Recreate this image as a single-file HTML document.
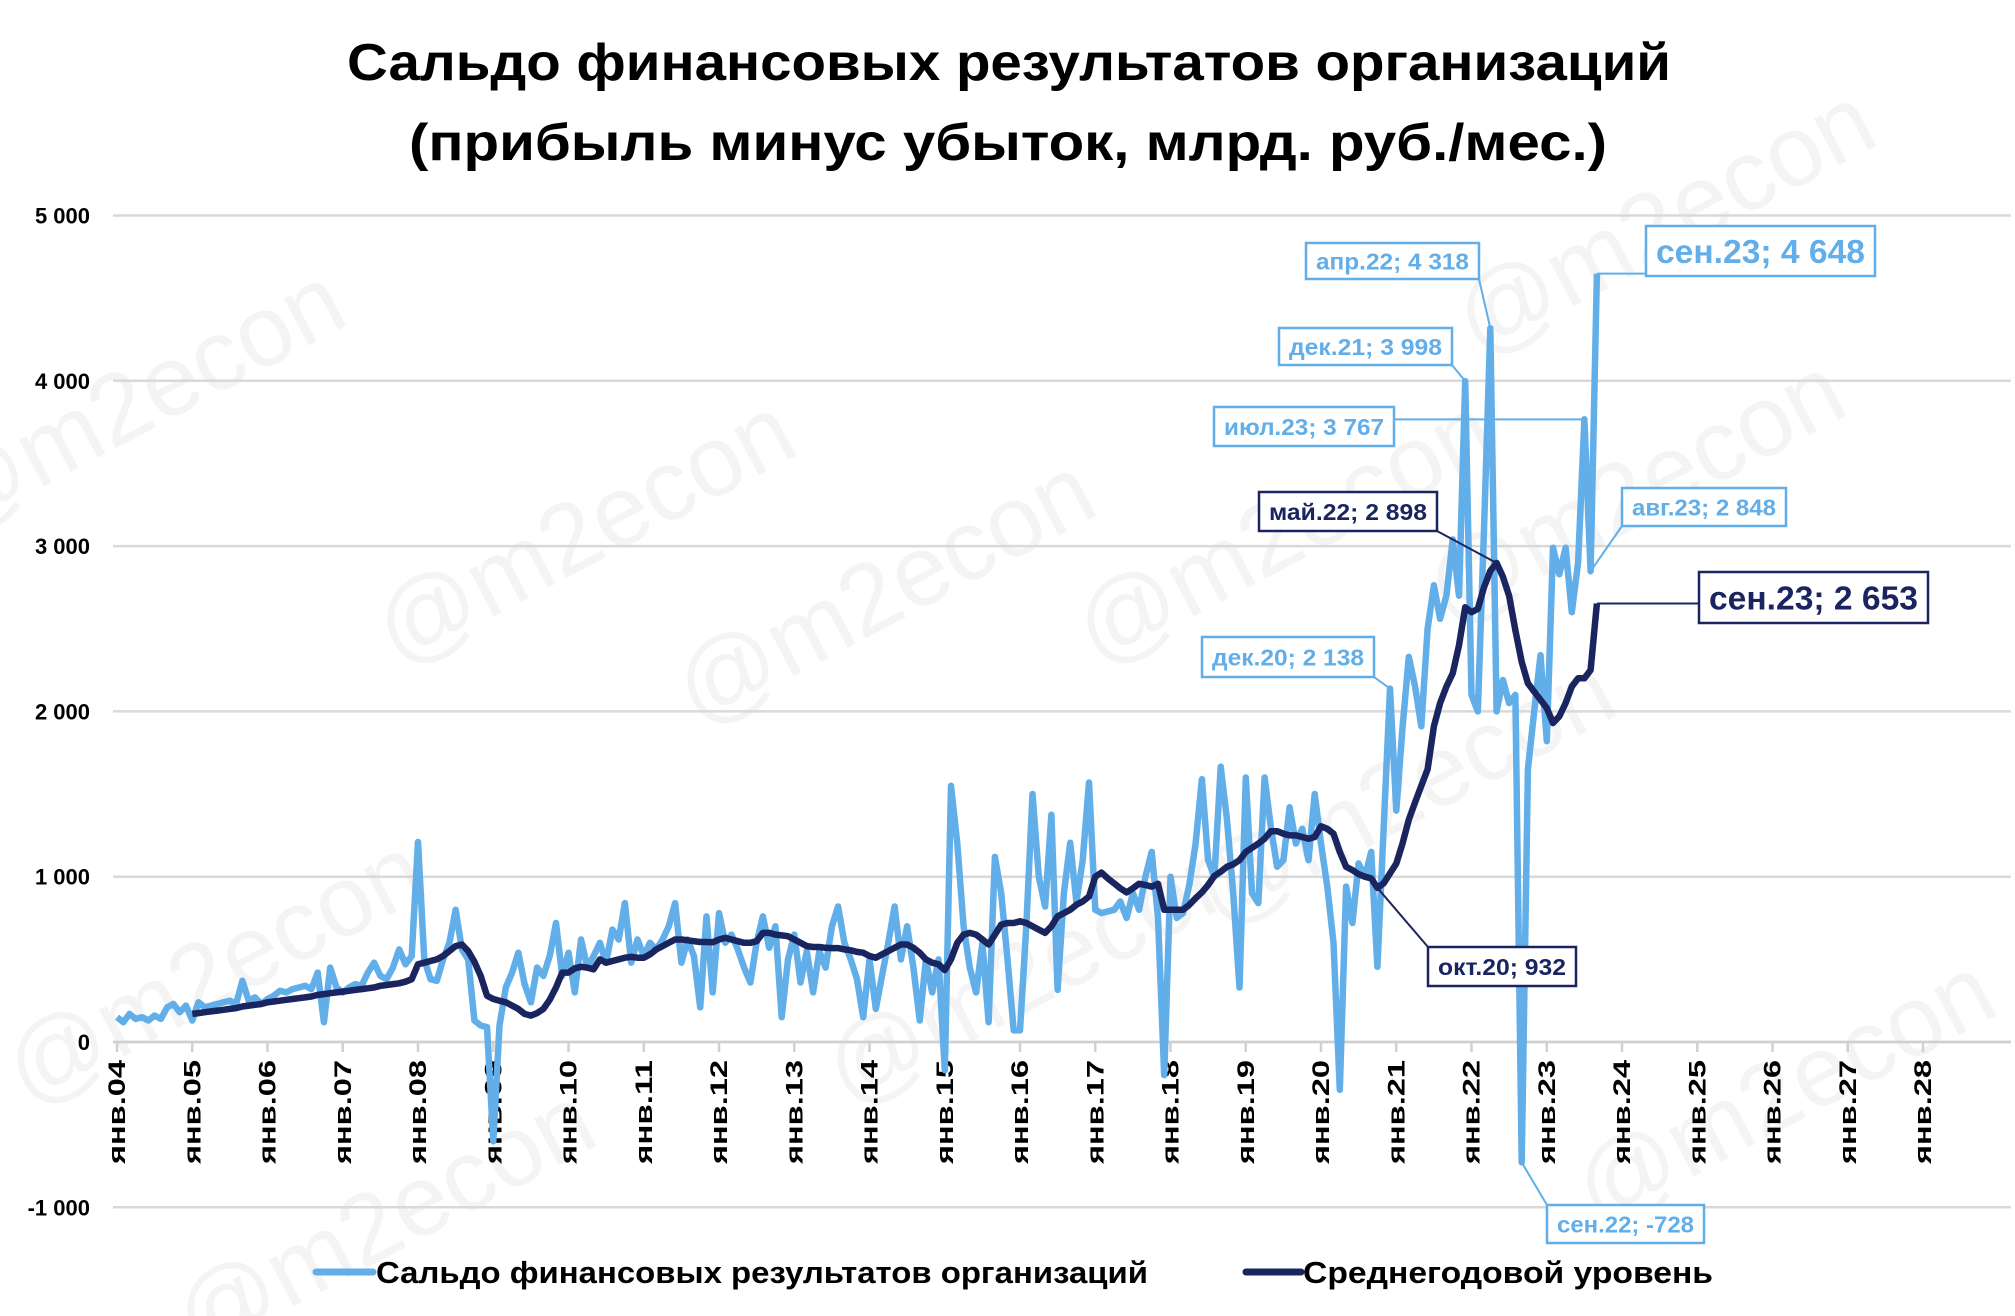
<!DOCTYPE html>
<html><head><meta charset="utf-8">
<style>
html,body{margin:0;padding:0;background:#fff;width:2015px;height:1316px;overflow:hidden;}
svg{display:block;overflow:hidden;font-family:"Liberation Sans","DejaVu Sans",sans-serif;}
</style></head>
<body>
<svg id="chart" width="2015" height="1316" viewBox="0 0 2015 1316" xmlns="http://www.w3.org/2000/svg">
<rect width="2015" height="1316" fill="#fff"/>
<g id="wm" fill="#f4f4f4" font-size="100" font-weight="normal"></g>
<text x="1009" y="80" text-anchor="middle" font-size="52" font-weight="bold" textLength="1324" lengthAdjust="spacingAndGlyphs">Сальдо финансовых результатов организаций</text>
<text x="1008" y="160" text-anchor="middle" font-size="52" font-weight="bold" textLength="1198" lengthAdjust="spacingAndGlyphs">(прибыль минус убыток, млрд. руб./мес.)</text>
<g id="grid"></g>
<g id="yax"></g>
<g id="xax"></g>
<g id="series"></g>
<g id="labels"></g>
<g>
  <g>
    <line x1="316" y1="1272" x2="373" y2="1272" stroke="#62aee8" stroke-width="7" stroke-linecap="round"/>
    <text x="376" y="1283" font-size="31" font-weight="bold" textLength="772" lengthAdjust="spacingAndGlyphs">Сальдо финансовых результатов организаций</text>
  </g>
  <g>
    <line x1="1246" y1="1272" x2="1301" y2="1272" stroke="#1a2560" stroke-width="7" stroke-linecap="round"/>
    <text x="1303" y="1283" font-size="31" font-weight="bold" textLength="410" lengthAdjust="spacingAndGlyphs">Среднегодовой уровень</text>
  </g>
</g>
</svg>
<script>
// ---- data ----
const startYear = 2004;
const yTicks = [5000,4000,3000,2000,1000,0,-1000];
const yTickLabels = ["5 000","4 000","3 000","2 000","1 000","0","-1 000"];
const xYears = ["04","05","06","07","08","09","10","11","12","13","14","15","16","17","18","19","20","21","22","23","24","25","26","27","28"];
// monthly saldo, Jan 2004 .. Sep 2023
const saldo = [
150,120,170,140,150,130,160,140,210,230,180,220,
130,240,210,220,230,240,250,230,370,250,270,230,
260,280,310,300,320,330,340,320,420,120,450,330,
300,330,350,340,420,480,400,380,450,560,470,520,
1210,500,380,370,500,600,800,560,500,130,100,90,
-600,100,330,420,540,350,240,450,400,520,720,400,
540,300,620,450,520,600,480,680,620,840,480,620,
520,600,560,620,700,840,480,620,520,210,760,300,
780,600,650,560,450,360,600,760,570,700,150,500,
650,360,550,300,550,450,700,820,600,500,380,150,
500,200,400,600,820,500,700,450,130,500,300,500,
-170,1550,1200,700,450,300,600,120,1120,900,500,70,
70,700,1500,1000,820,1375,315,900,1205,845,1100,1570,
800,780,790,800,850,750,900,800,1000,1150,750,-200,
1000,750,780,950,1200,1590,1100,1000,1665,1350,900,330,
1600,900,840,1600,1300,1060,1100,1420,1200,1290,1100,1500,
1200,940,600,-290,940,720,1080,1000,1150,455,1300,2138,
1400,1900,2330,2150,1910,2500,2763,2560,2700,3040,2700,3998,
2100,2000,3100,4318,2000,2190,2050,2100,-728,1650,2000,2340,
1820,2990,2830,2990,2600,2900,3767,2848,4648];
// average level, Jan 2005 .. Sep 2023
const avgStart = 12;
const avgLevel = [
170,175,180,185,190,195,200,205,215,220,225,230,
240,245,250,255,260,265,270,275,285,290,295,300,
305,310,315,320,325,330,340,345,350,355,365,380,
470,480,490,500,520,550,580,590,550,485,400,280,
260,250,240,220,200,170,160,175,200,255,330,420,
420,445,455,450,440,500,480,490,500,510,515,510,
510,530,560,580,600,620,620,615,610,605,605,603,
620,630,620,610,600,600,610,660,660,650,645,640,
620,600,580,575,575,570,568,568,560,555,545,540,
520,510,530,550,570,590,590,570,540,500,480,470,
435,500,600,650,660,650,620,590,650,710,720,720,
730,720,700,680,660,700,760,780,800,830,850,880,
1000,1025,990,960,930,905,930,957,950,940,957,800,
800,800,800,830,870,905,950,1005,1030,1060,1075,1100,
1150,1175,1200,1230,1275,1275,1260,1250,1250,1240,1230,1240,
1305,1290,1260,1150,1060,1040,1015,1000,990,932,960,1020,
1080,1200,1345,1450,1550,1650,1910,2050,2150,2230,2400,2630,
2600,2620,2750,2850,2898,2815,2700,2490,2300,2170,2120,2070,
2020,1930,1970,2050,2150,2200,2200,2250,2653];
const calloutSeries = ["s","s","s","a","s","s","a","s","a","s"];
const calloutIndex = [219,215,234,220,235,236,236,203,201,224];
const calloutText = ["апр.22; 4 318","дек.21; 3 998","июл.23; 3 767","май.22; 2 898","авг.23; 2 848","сен.23; 4 648","сен.23; 2 653","дек.20; 2 138","окт.20; 932","сен.22; -728"];

// ---- axes ----
const NS = "http://www.w3.org/2000/svg";
const X0 = 117, PERYEAR = 75.25, Y0 = 1042, PER = 0.1653;
function xm(i){ return X0 + PERYEAR * i / 12; }
function yv(v){ return Y0 - v * PER; }
function mk(tag, attrs, parent){ const e = document.createElementNS(NS, tag); for (const k in attrs) e.setAttribute(k, attrs[k]); parent.appendChild(e); return e; }

const wm = document.getElementById('wm');
[[150,430],[600,560],[230,1000],[900,620],[1300,560],[1650,520],[1680,250],[1420,820],[1800,1120],[400,1250],[1050,1000]].forEach(p=>{
  const t = mk('text', {x:p[0], y:p[1], transform:`rotate(-28 ${p[0]} ${p[1]})`, 'text-anchor':'middle'}, wm);
  
  
  t.textContent = '@m2econ';
});

const grid = document.getElementById('grid'), yax = document.getElementById('yax');
yTicks.forEach((v, k) => {
  const l = mk('line', {x1:113, x2:2011, y1:yv(v), y2:yv(v), stroke:'#d9d9d9', 'stroke-width':2.5}, grid);
  
  
  const t = mk('text', {x:90, y:yv(v)+8, 'text-anchor':'end', 'font-size':22, 'font-weight':'bold'}, yax);
  
  
  t.textContent = yTickLabels[k];
});
const xax = document.getElementById('xax');
const ax = mk('line', {x1:113, x2:2011, y1:Y0, y2:Y0, stroke:'#d0d0d0', 'stroke-width':2.5}, xax);


xYears.forEach((yy, k) => {
  const x = xm(k*12);
  const tk = mk('line', {x1:x, x2:x, y1:Y0, y2:Y0+10, stroke:'#d0d0d0', 'stroke-width':2.5}, xax);
  
  
  const t = mk('text', {x:x+8, y:Y0+18, transform:`rotate(-90 ${x+8} ${Y0+18})`, 'text-anchor':'end', 'font-size':24, 'font-weight':'bold', textLength:104, lengthAdjust:'spacingAndGlyphs'}, xax);
  
  
  t.textContent = 'янв.' + yy;
});

const sg = document.getElementById('series');
let d1 = saldo.map((v,i)=>(i?'L':'M')+xm(i).toFixed(1)+' '+yv(v).toFixed(1)).join(' ');
const p1 = mk('path', {d:d1, fill:'none', stroke:'#62aee8', 'stroke-width':6.5, 'stroke-linejoin':'round'}, sg);


let d2 = avgLevel.map((v,i)=>(i?'L':'M')+xm(i+avgStart).toFixed(1)+' '+yv(v).toFixed(1)).join(' ');
const p2 = mk('path', {d:d2, fill:'none', stroke:'#1a2560', 'stroke-width':6.5, 'stroke-linejoin':'round'}, sg);



const boxX = [1306,1279,1214,1259,1622,1646,1699,1202,1428,1547];
const boxY = [243,328,407,492,488,226,572,637,947,1205];
const boxW = [173,173,180,178,164,229,229,172,148,157];
const boxH = [36,37,39,39,38,50,51,40,39,38];
const fs = [23,23,23,23,23,33,33,23,23,23];
const lg = document.getElementById('labels');
calloutText.forEach((txt, k) => {
  const dark = calloutSeries[k] === 'a';
  const col = dark ? '#1a2560' : '#62aee8';
  const i = calloutIndex[k];
  const v = dark ? avgLevel[i-avgStart] : saldo[i];
  const px = xm(i), py = yv(v);
  const bx = boxX[k], by = boxY[k], bw = boxW[k], bh = boxH[k];
  let ax2 = Math.max(bx, Math.min(bx+bw, px)), ay2 = Math.max(by, Math.min(by+bh, py));
  const g = mk('g', {}, lg);
  
  
  mk('line', {x1:ax2, y1:ay2, x2:px, y2:py, stroke:col, 'stroke-width':2}, g);
  mk('rect', {x:bx, y:by, width:bw, height:bh, fill:'#fff', stroke:col, 'stroke-width':2.5}, g);
  const t = mk('text', {x:bx+bw/2, y:by+bh/2+fs[k]*0.36, 'text-anchor':'middle', 'font-size':fs[k], 'font-weight':'bold', fill:col, textLength:bw-20, lengthAdjust:'spacingAndGlyphs'}, g);
  t.textContent = txt;
});
</script>
</body></html>
